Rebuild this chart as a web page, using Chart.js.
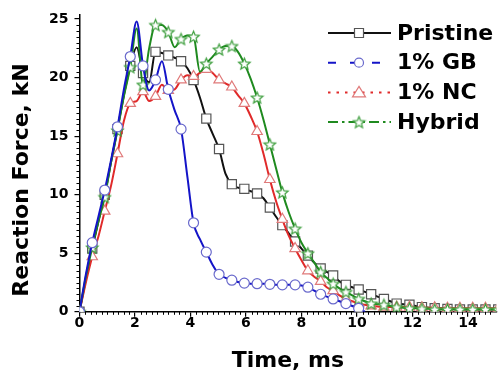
<!DOCTYPE html>
<html>
<head>
<meta charset="utf-8">
<script src="https://cdn.jsdelivr.net/npm/chart.js"></script>
<style>
  body { margin: 0; background: #fff; }
  #wrap { width: 504px; height: 376px; }
</style>
</head>
<body>
<div id="wrap"><canvas id="forceChart" width="504" height="376"></canvas></div>
<script>
// Time axis, ms (markers sit on every second sample)
const times = [0, 0.23, 0.46, 0.69, 0.91, 1.14, 1.37, 1.6, 1.83, 2.06,
  2.29, 2.51, 2.74, 2.97, 3.2, 3.43, 3.66, 3.89, 4.11, 4.34,
  4.57, 4.8, 5.03, 5.26, 5.49, 5.71, 5.94, 6.17, 6.4, 6.63,
  6.86, 7.09, 7.31, 7.54, 7.77, 8.0, 8.23, 8.46, 8.69, 8.91,
  9.14, 9.37, 9.6, 9.83, 10.06, 10.29, 10.51, 10.74, 10.97, 11.2,
  11.43, 11.66, 11.89, 12.11, 12.34, 12.57, 12.8, 13.03, 13.26, 13.49,
  13.71, 13.94, 14.17, 14.4, 14.63, 14.86, 15.09];

// Reaction force, kN
const pristine = [0, 2.8, 5.4, 7.8, 10.0, 12.8, 15.6, 18.5, 21.0, 22.6,
  20.4, 19.6, 22.2, 22.1, 21.9, 21.7, 21.4, 20.8, 19.8, 18.3,
  16.5, 15.2, 13.9, 11.8, 10.9, 10.6, 10.5, 10.3, 10.1, 9.7,
  8.9, 8.1, 7.4, 6.7, 6.0, 5.4, 4.8, 4.2, 3.7, 3.4,
  3.1, 2.6, 2.3, 2.1, 1.9, 1.7, 1.5, 1.3, 1.1, 0.9,
  0.7, 0.65, 0.6, 0.5, 0.4, 0.35, 0.3, 0.3, 0.25, 0.25,
  0.2, 0.2, 0.2, 0.2, 0.2, 0.2, 0.2];
const gb = [0, 3.2, 5.9, 8.2, 10.4, 13.0, 15.8, 19.0, 21.8, 24.8,
  21.0, 18.9, 19.8, 21.4, 19.0, 17.2, 15.6, 11.5, 7.6, 6.2,
  5.1, 4.0, 3.2, 2.9, 2.7, 2.55, 2.45, 2.4, 2.4, 2.4,
  2.35, 2.3, 2.3, 2.3, 2.3, 2.25, 2.1, 1.8, 1.5, 1.3,
  1.1, 0.9, 0.7, 0.5, 0.3, 0.0, null, null, null, null,
  null, null, null, null, null, null, null, null, null, null,
  null, null, null, null, null, null, null];
const nc = [0, 2.5, 4.7, 6.5, 8.6, 10.8, 13.5, 16.3, 17.8, 18.0,
  18.8, 18.0, 18.4, 19.4, 18.9, 19.0, 19.8, 20.2, 20.1, 20.4,
  20.7, 20.4, 19.8, 19.5, 19.2, 18.5, 17.8, 16.7, 15.4, 13.5,
  11.3, 9.4, 7.9, 6.5, 5.4, 4.4, 3.5, 3.0, 2.6, 2.1,
  1.8, 1.4, 1.1, 0.9, 0.7, 0.6, 0.5, 0.45, 0.4, 0.4,
  0.4, 0.4, 0.4, 0.35, 0.35, 0.35, 0.35, 0.3, 0.3, 0.3,
  0.3, 0.3, 0.3, 0.3, 0.3, 0.3, 0.3];
const hybrid = [0, 3.0, 5.5, 7.8, 9.8, 12.8, 15.5, 18.4, 20.9, 24.2,
  19.4, 22.5, 24.5, 24.5, 23.9, 22.6, 23.3, 23.6, 23.5, 20.5,
  21.2, 21.8, 22.4, 22.7, 22.7, 22.2, 21.2, 19.9, 18.3, 16.4,
  14.3, 12.2, 10.2, 8.5, 7.1, 5.9, 5.0, 4.2, 3.4, 2.9,
  2.4, 2.0, 1.7, 1.4, 1.1, 0.9, 0.7, 0.65, 0.6, 0.5,
  0.4, 0.35, 0.3, 0.3, 0.25, 0.25, 0.2, 0.2, 0.2, 0.2,
  0.2, 0.2, 0.2, 0.2, 0.2, 0.2, 0.2];

const seriesNames = ["Pristine", "1% GB", "1% NC", "Hybrid"];
const xTicks = [0, 2, 4, 6, 8, 10, 12, 14];
const yTicks = [0, 5, 10, 15, 20, 25];

const FONT = "'DejaVu Sans', 'Liberation Sans', sans-serif";

// 5 point star marker, Chart.js only has an asterisk "star"
function makeStar(color, outer) {
  const c = document.createElement("canvas");
  c.width = c.height = Math.ceil(outer * 2 + 3);
  const g = c.getContext("2d");
  const m = c.width / 2;
  g.beginPath();
  for (let k = 0; k < 10; k++) {
    const r = k % 2 ? outer * 0.45 : outer;
    const a = -Math.PI / 2 + k * Math.PI / 5;
    g.lineTo(m + r * Math.cos(a), m + 0.6 + r * Math.sin(a));
  }
  g.closePath();
  g.fillStyle = "#fff";
  g.fill();
  g.strokeStyle = color;
  g.lineWidth = 1.2;
  g.stroke();
  return c;
}

const styles = [
  { line: "#111111", marker: "#555555", shape: "rect", r: 6.5, dash: [] },
  { line: "#1414c8", marker: "#6a6acc", shape: "circle", r: 5, dash: [8, 14] },
  { line: "#e02a2a", marker: "#e07a7a", shape: "triangle", r: 6, dash: [2.5, 6] },
  { line: "#1f8a1f", marker: "#3d9e3d", shape: makeStar("#3d9e3d", 6), r: 6, dash: [10, 4, 2.5, 4] }
];

function toPoints(values) {
  return times.map((t, i) => ({ x: t, y: values[i] }));
}

const allValues = [pristine, gb, nc, hybrid];
const datasets = allValues.map((vals, i) => ({
  label: seriesNames[i],
  data: toPoints(vals),
  borderColor: styles[i].line,
  borderWidth: 2,
  backgroundColor: "#ffffff",
  pointBackgroundColor: "#ffffff",
  pointBorderColor: styles[i].marker,
  pointBorderWidth: 1.2,
  pointStyle: styles[i].shape,
  pointRadius: (ctx) => (ctx.dataIndex % 2 === 0 ? styles[i].r : 0),
  cubicInterpolationMode: "monotone",
  spanGaps: false,
  order: [3, 0, 2, 1][i]
}));

function drawMarker(ctx, s, x, y) {
  ctx.save();
  ctx.fillStyle = "#fff";
  ctx.strokeStyle = s.marker;
  ctx.lineWidth = 1.2;
  ctx.setLineDash([]);
  ctx.beginPath();
  if (s.shape === "rect") {
    ctx.rect(x - 4.5, y - 4.5, 9, 9);
  } else if (s.shape === "circle") {
    ctx.arc(x, y, 4.5, 0, Math.PI * 2);
  } else if (s.shape === "triangle") {
    ctx.moveTo(x, y - 6);
    ctx.lineTo(x + 6.5, y + 4.5);
    ctx.lineTo(x - 6.5, y + 4.5);
    ctx.closePath();
  } else {
    ctx.drawImage(s.shape, x - s.shape.width / 2, y - s.shape.height / 2);
    ctx.restore();
    return;
  }
  ctx.fill();
  ctx.stroke();
  ctx.restore();
}

const extrasPlugin = {
  id: "extras",
  afterDraw(chart) {
    const ctx = chart.ctx;
    const xs = chart.scales.x, ys = chart.scales.y;
    ctx.save();
    ctx.strokeStyle = "#000";
    ctx.lineWidth = 1;
    // minor ticks
    for (let k = 1; k <= 75; k++) {
      if (k % 10 === 0) continue;
      const px = Math.round(xs.getPixelForValue(k * 0.2)) + 0.5;
      if (px > chart.chartArea.right) break;
      ctx.beginPath();
      ctx.moveTo(px, ys.bottom);
      ctx.lineTo(px, ys.bottom + 3);
      ctx.stroke();
    }
    for (let k = 1; k <= 50; k++) {
      if (k % 10 === 0) continue;
      const py = Math.round(ys.getPixelForValue(k * 0.5)) + 0.5;
      ctx.beginPath();
      ctx.moveTo(xs.left - 3, py);
      ctx.lineTo(xs.left, py);
      ctx.stroke();
    }

    // y axis title
    ctx.fillStyle = "#000";
    ctx.font = "bold 22px " + FONT;
    ctx.textAlign = "center";
    ctx.textBaseline = "middle";
    ctx.save();
    ctx.translate(22, 180);
    ctx.rotate(-Math.PI / 2);
    ctx.fillText("Reaction Force, kN", 0, 0);
    ctx.restore();

    // legend
    seriesNames.forEach((name, i) => {
      const s = styles[i];
      const y = 33 + i * 29.7;
      ctx.save();
      ctx.strokeStyle = s.line;
      ctx.lineWidth = 2;
      ctx.setLineDash(s.dash);
      ctx.beginPath();
      ctx.moveTo(328, y);
      ctx.lineTo(391, y);
      ctx.stroke();
      ctx.restore();
      drawMarker(ctx, s, 359, y);
      ctx.fillStyle = "#000";
      ctx.textAlign = "left";
      ctx.font = "bold 22px " + FONT;
      ctx.fillText(name, 397, y + 1);
    });
    ctx.restore();
  }
};

new Chart(document.getElementById("forceChart"), {
  type: "line",
  data: { datasets: datasets },
  options: {
    responsive: false,
    animation: false,
    events: [],
    layout: { padding: { left: 43, top: 12, right: 0, bottom: 0 } },
    plugins: {
      legend: { display: false },
      tooltip: { enabled: false }
    },
    scales: {
      x: {
        type: "linear",
        min: 0,
        max: 15.02,
        afterBuildTicks: (scale) => {
          scale.ticks = xTicks.map((v) => ({ value: v }));
        },
        border: { color: "#000", width: 1.5 },
        grid: { drawOnChartArea: false, drawTicks: true, tickLength: 5, color: "#000", lineWidth: 1.2 },
        ticks: {
          color: "#000",
          padding: -2,
          maxRotation: 0,
          font: { family: FONT, size: 14, weight: "bold" }
        },
        title: {
          display: true,
          text: "Time, ms",
          color: "#000",
          padding: { top: 18, bottom: 2 },
          font: { family: FONT, size: 22, weight: "bold" }
        }
      },
      y: {
        min: 0,
        max: 25.4,
        afterBuildTicks: (scale) => {
          scale.ticks = yTicks.map((v) => ({ value: v }));
        },
        border: { color: "#000", width: 1.5 },
        grid: { drawOnChartArea: false, drawTicks: true, tickLength: 5, color: "#000", lineWidth: 1.2 },
        ticks: {
          color: "#000",
          padding: 6,
          font: { family: FONT, size: 14, weight: "bold" }
        }
      }
    }
  },
  plugins: [extrasPlugin]
});
</script>
</body>
</html>
